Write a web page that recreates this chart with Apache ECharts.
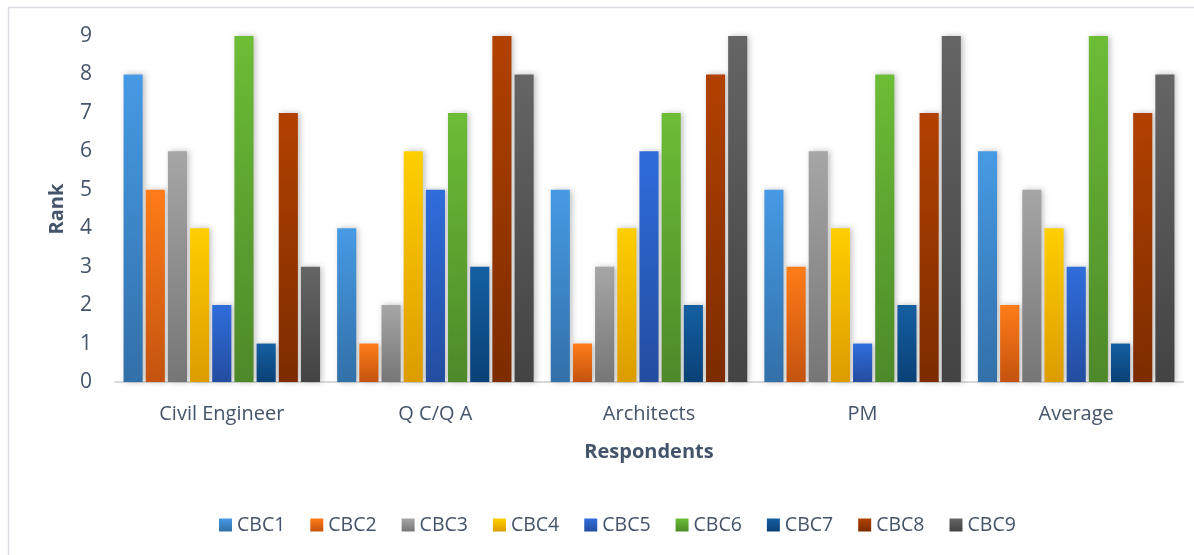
<!DOCTYPE html>
<html>
<head>
<meta charset="utf-8">
<script src="https://cdn.jsdelivr.net/npm/echarts@6/dist/echarts.min.js"></script>
<style>
  html, body { margin: 0; padding: 0; background: #fff; }
  #chart { width: 1194px; height: 555px; }
</style>
</head>
<body>
<div id="chart"></div>
<script>
// Respondent groups along the x axis
const categories = ['Civil Engineer', 'Q C/Q A', 'Architects', 'PM', 'Average'];
const seriesNames = ['CBC1', 'CBC2', 'CBC3', 'CBC4', 'CBC5', 'CBC6', 'CBC7', 'CBC8', 'CBC9'];

// Rank of each CBC per respondent group
const CBC1 = [8, 4, 5, 5, 6];
const CBC2 = [5, 1, 1, 3, 2];
const CBC3 = [6, 2, 3, 6, 5];
const CBC4 = [4, 6, 4, 4, 4];
const CBC5 = [2, 5, 6, 1, 3];
const CBC6 = [9, 7, 7, 8, 9];
const CBC7 = [1, 3, 2, 2, 1];
const CBC8 = [7, 9, 8, 7, 7];
const CBC9 = [3, 8, 9, 9, 8];
const seriesValues = [CBC1, CBC2, CBC3, CBC4, CBC5, CBC6, CBC7, CBC8, CBC9];

const yTicks = [0, 1, 2, 3, 4, 5, 6, 7, 8, 9];

// Top / bottom gradient stops for each series
const gradients = [
  ['#469ae4', '#3270a9'],
  ['#ff7c18', '#c4530f'],
  ['#a6a6a6', '#767676'],
  ['#ffcf00', '#db9c00'],
  ['#2f6ddc', '#234d9f'],
  ['#6cbd36', '#4d8929'],
  ['#145fa2', '#0a4176'],
  ['#b24100', '#7c2c00'],
  ['#656565', '#434343']
];

const textColor = '#44546a';
const fontFamily = '"Open Sans", "Noto Sans", sans-serif';

function grad(pair) {
  return new echarts.graphic.LinearGradient(0, 0, 0, 1, [
    { offset: 0, color: pair[0] },
    { offset: 1, color: pair[1] }
  ]);
}

const chart = echarts.init(document.getElementById('chart'), null, { renderer: 'canvas' });

const series = seriesNames.map((name, i) => ({
  name: name,
  type: 'bar',
  data: seriesValues[i],
  barGap: '16%',
  barCategoryGap: '8%',
  itemStyle: {
    color: grad(gradients[i]),
    shadowBlur: 6,
    shadowOffsetX: 2,
    shadowOffsetY: 0,
    shadowColor: 'rgba(0,0,0,0.25)'
  },
  emphasis: { disabled: true }
}));

chart.setOption({
  animation: false,
  backgroundColor: '#ffffff',
  textStyle: { fontFamily: fontFamily, color: textColor },
  graphic: [
    {
      type: 'rect',
      shape: { x: 8.5, y: 7.5, width: 1200, height: 560 },
      style: { fill: 'none', stroke: '#d9dde3', lineWidth: 1.5 },
      silent: true
    }
  ],
  grid: { left: 115, right: 11, top: 36, bottom: 173, containLabel: false },
  legend: {
    data: seriesNames,
    left: 214,
    top: 510,
    itemWidth: 13,
    itemHeight: 13,
    itemGap: 25,
    icon: 'rect',
    textStyle: { fontSize: 19.5, color: textColor, fontFamily: fontFamily }
  },
  xAxis: {
    type: 'category',
    data: categories,
    name: 'Respondents',
    nameLocation: 'middle',
    nameGap: 60,
    nameTextStyle: { fontSize: 20, fontWeight: 'bold', color: textColor, fontFamily: fontFamily },
    axisLine: { show: true, lineStyle: { color: '#d9d9d9', width: 2 } },
    axisTick: { show: false },
    axisLabel: { fontSize: 20, color: textColor, margin: 22, fontFamily: fontFamily }
  },
  yAxis: {
    type: 'value',
    min: yTicks[0],
    max: yTicks[yTicks.length - 1],
    interval: 1,
    name: 'Rank',
    nameLocation: 'middle',
    nameGap: 48,
    nameRotate: 90,
    nameTextStyle: { fontSize: 20, fontWeight: 'bold', color: textColor, fontFamily: fontFamily },
    axisLine: { show: false },
    axisTick: { show: false },
    splitLine: { show: false },
    axisLabel: { fontSize: 21, color: textColor, margin: 23, fontFamily: fontFamily }
  },
  series: series
});
</script>
</body>
</html>
